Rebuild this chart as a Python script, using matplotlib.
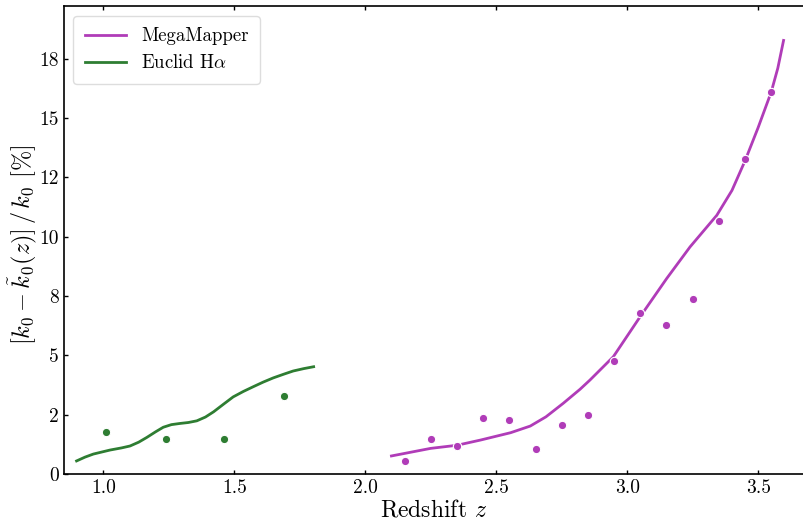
import matplotlib
matplotlib.use("Agg")
import matplotlib.pyplot as plt
from matplotlib.ticker import FuncFormatter

plt.rcParams["font.family"] = "serif"
plt.rcParams["font.serif"] = ["cmr10"]
plt.rcParams["mathtext.fontset"] = "cm"
plt.rcParams["axes.unicode_minus"] = False
plt.rcParams["axes.formatter.use_mathtext"] = True

# MegaMapper: smooth curve + binned estimates
mm_curve_z = [2.10, 2.25, 2.35, 2.44, 2.555, 2.63, 2.69, 2.756, 2.82, 2.858,
              2.947, 3.049, 3.151, 3.24, 3.342, 3.40, 3.45, 3.50, 3.55, 3.575, 3.597]
mm_curve_v = [0.76, 1.08, 1.21, 1.43, 1.74, 2.02, 2.41, 2.98, 3.57, 3.96,
              4.94, 6.62, 8.24, 9.57, 10.9, 11.95, 13.2, 14.6, 16.1, 17.1, 18.27]
mm_pts_z = [2.15, 2.25, 2.35, 2.45, 2.55, 2.65, 2.75, 2.85,
            2.95, 3.05, 3.15, 3.25, 3.35, 3.45, 3.55]
mm_pts_v = [0.56, 1.46, 1.17, 2.37, 2.26, 1.07, 2.06, 2.47,
            4.77, 6.77, 6.27, 7.37, 10.68, 13.28, 16.08]

# Euclid H-alpha
eu_curve_z = [0.898, 0.93, 0.962, 1.026, 1.07, 1.102, 1.135, 1.166, 1.20, 1.229,
              1.26, 1.293, 1.325, 1.357, 1.39, 1.421, 1.46, 1.496, 1.535, 1.573,
              1.61, 1.649, 1.69, 1.725, 1.765, 1.803]
eu_curve_v = [0.55, 0.71, 0.84, 1.01, 1.10, 1.18, 1.34, 1.54, 1.78, 1.97,
              2.08, 2.13, 2.17, 2.24, 2.40, 2.62, 2.95, 3.25, 3.48, 3.68,
              3.87, 4.05, 4.21, 4.34, 4.44, 4.52]
eu_pts_z = [1.01, 1.24, 1.46, 1.69]
eu_pts_v = [1.77, 1.47, 1.47, 3.27]

y_ticks = [0, 2.5, 5, 7.5, 10, 12.5, 15, 17.5]
x_ticks = [1.0, 1.5, 2.0, 2.5, 3.0, 3.5]

mm_color = "#b03cb8"
eu_color = "#2e7d32"

fig = plt.figure(figsize=(8.04, 5.23), dpi=100)
ax = fig.add_axes([0.0796, 0.0937, 0.9204, 0.8939])

ax.plot(mm_curve_z, mm_curve_v, color=mm_color, lw=2.0, label="MegaMapper",
        solid_joinstyle="round")
ax.plot(eu_curve_z, eu_curve_v, color=eu_color, lw=2.0, label=r"Euclid H$\alpha$",
        solid_joinstyle="round")
ax.plot(mm_pts_z, mm_pts_v, "o", color=mm_color, ms=6, mec="white", mew=0.8)
ax.plot(eu_pts_z, eu_pts_v, "o", color=eu_color, ms=6, mec="white", mew=0.8)

ax.set_xlim(0.85, 3.675)
ax.set_ylim(0, 19.7)
ax.set_xticks(x_ticks)
ax.set_yticks(y_ticks)
ax.yaxis.set_major_formatter(FuncFormatter(lambda v, p: "{:.0f}".format(v)))
ax.xaxis.set_major_formatter(FuncFormatter(lambda v, p: "{:.1f}".format(v)))
ax.tick_params(direction="in", top=True, right=False, length=3, width=1,
               labelsize=14)
ax.spines["right"].set_visible(False)
for s in ["left", "bottom", "top"]:
    ax.spines[s].set_linewidth(1.2)

ax.set_xlabel(r"Redshift $z$", fontsize=17, labelpad=2)
ax.set_ylabel(r"$[k_0 - \tilde{k}_0(z)]\,/\,k_0$ [%]", fontsize=17.5)
ax.yaxis.set_label_coords(-0.034, 0.49)

ax.legend(loc="upper left", fontsize=13.5, handlelength=2.2, borderpad=0.6,
          framealpha=1, edgecolor="#dddddd", fancybox=True)

fig.savefig("out.png", dpi=100)
